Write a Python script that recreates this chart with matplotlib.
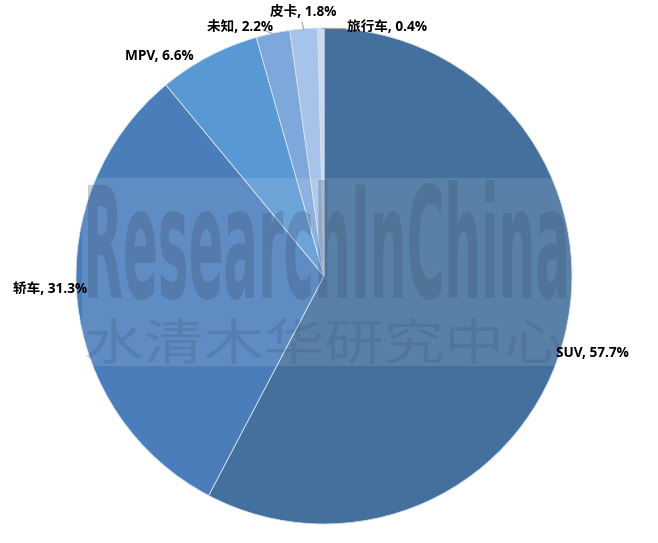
import matplotlib
matplotlib.use('Agg')
import matplotlib.pyplot as plt
from matplotlib.textpath import TextPath
from matplotlib.patches import PathPatch, Rectangle
from matplotlib.font_manager import FontProperties
from matplotlib.transforms import Affine2D

plt.rcParams['font.family'] = ['Open Sans', 'Noto Sans CJK SC', 'DejaVu Sans']

categories = ['SUV', '轿车', 'MPV', '未知', '皮卡', '旅行车']
shares = [57.7, 31.3, 6.6, 2.2, 1.8, 0.4]
colors = ['#43709c', '#4a7dba', '#5898d3', '#7ea8dc', '#a7c3e9', '#c9d8ef']

# label anchor points in pixels (left edge, vertical centre)
label_pos = [(556, 353), (13, 289), (125, 56), (207, 27), (270, 12), (347, 27)]
# leader lines (pixel coords), None where no line
leaders = [None, None, None, [(263, 30), (274, 34)], [(302, 22), (304, 30)],
           [(322, 28), (345, 28)]]

W, H = 658, 543
fig = plt.figure(figsize=(W / 100, H / 100), dpi=100)

cx, cy, r = 324, 276, 248
ax = fig.add_axes([(cx - r) / W, (H - cy - r) / H, 2 * r / W, 2 * r / H])
ax.pie(shares, colors=colors, startangle=90, counterclock=False,
       wedgeprops=dict(edgecolor='#d6e2f0', linewidth=0.6))
ax.set_xlim(-1, 1)
ax.set_ylim(-1, 1)
ax.set_aspect('auto')
ax.axis('off')

# overlay in pixel coordinates for watermark and labels
ov = fig.add_axes([0, 0, 1, 1])
ov.set_xlim(0, W)
ov.set_ylim(H, 0)
ov.axis('off')

ov.add_patch(Rectangle((82, 178), 490, 188, facecolor='white', alpha=0.12,
                       edgecolor='none'))


def fit_text(s, prop, x0, y0, x1, y1, color, alpha):
    tp = TextPath((0, 0), s, size=100, prop=prop)
    bb = tp.get_extents()
    sx = (x1 - x0) / bb.width
    sy = (y1 - y0) / bb.height
    tr = Affine2D().translate(-bb.x0, -bb.y0).scale(sx, -sy).translate(x0, y1)
    ov.add_patch(PathPatch(tr.transform_path(tp), facecolor=color,
                           edgecolor='none', alpha=alpha))


fit_text('ResearchInChina', FontProperties(family='DejaVu Sans', weight='bold'),
         88, 180, 566, 300, '#3a4f70', 0.28)
fit_text('水清木华研究中心', FontProperties(family='Noto Sans CJK SC'),
         86, 318, 562, 364, '#3a4f70', 0.22)

for cat, val, (lx, ly), ld in zip(categories, shares, label_pos, leaders):
    ov.text(lx, ly, f'{cat}, {val}%', fontsize=9.8, fontweight='bold',
            ha='left', va='center', color='black')
    if ld:
        ov.plot([ld[0][0], ld[1][0]], [ld[0][1], ld[1][1]], color='#a6a6a6',
                linewidth=0.8)

fig.savefig('out.png', dpi=100)
